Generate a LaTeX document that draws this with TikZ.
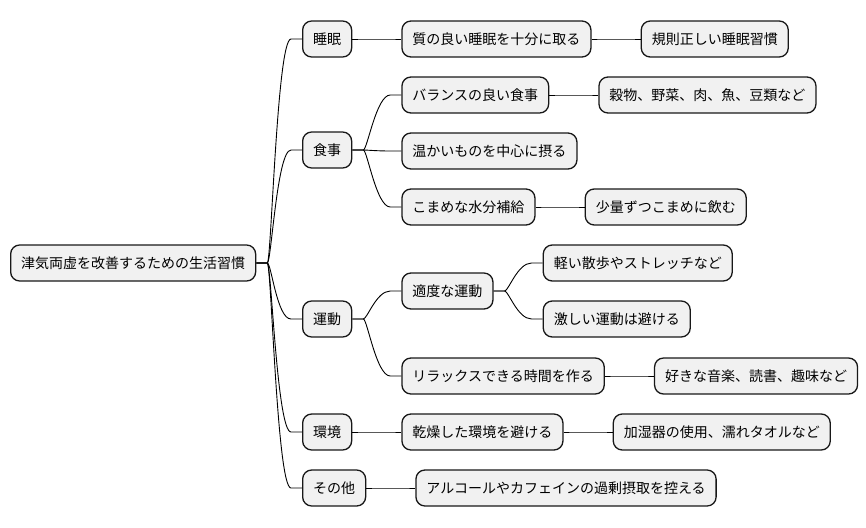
\documentclass[tikz,border=0pt]{standalone}
\usepackage{fontspec}
\usepackage{tikz}
\usetikzlibrary{calc}
\newfontfamily\jp{Noto Sans CJK JP}
\definecolor{boxfill}{HTML}{F1F1F1}
\definecolor{boxline}{HTML}{181818}

\begin{document}
\begin{tikzpicture}[x=1pt,y=-1pt,
  box/.style={draw=boxline, line width=1.3pt, fill=boxfill, rounded corners=9pt,
    minimum height=36, inner xsep=10.5pt, inner ysep=0pt, anchor=west,
    font=\jp\fontsize{14}{16}\selectfont},
  link/.style={draw=black, line width=0.9pt}]

\useasboundingbox (0,0) rectangle (866,527);

% root and first level
\node[box] (root) at (10,263) {津気両虚を改善するための生活習慣};
\node[box] (sleep) at (302,39)  {睡眠};
\node[box] (meal)  at (302,150) {食事};
\node[box] (move)  at (302,319) {運動};
\node[box] (env)   at (302,432) {環境};
\node[box] (other) at (302,488) {その他};

% second level
\node[box] (sleepwell) at ([xshift=49]sleep.east |- 0,39)  {質の良い睡眠を十分に取る};
\node[box] (balance)   at ([xshift=49]meal.east |- 0,95)   {バランスの良い食事};
\node[box] (warm)      at ([xshift=49]meal.east |- 0,151)  {温かいものを中心に摂る};
\node[box] (water)     at ([xshift=49]meal.east |- 0,207)  {こまめな水分補給};
\node[box] (modest)    at ([xshift=49]move.east |- 0,291)  {適度な運動};
\node[box] (relax)     at ([xshift=49]move.east |- 0,376)  {リラックスできる時間を作る};
\node[box] (dry)       at ([xshift=49]env.east |- 0,432)   {乾燥した環境を避ける};
\node[box] (alcohol)   at ([xshift=49]other.east |- 0,488) {アルコールやカフェインの過剰摂取を控える};

% third level
\node[box] (regular) at ([xshift=49]sleepwell.east |- 0,39) {規則正しい睡眠習慣};
\node[box] (grain)   at ([xshift=49]balance.east |- 0,95)   {穀物、野菜、肉、魚、豆類など};
\node[box] (sip)     at ([xshift=49]water.east |- 0,207)    {少量ずつこまめに飲む};
\node[box] (walk)    at ([xshift=49]modest.east |- 0,263)   {軽い散歩やストレッチなど};
\node[box] (hard)    at ([xshift=49]modest.east |- 0,319)   {激しい運動は避ける};
\node[box] (hobby)   at ([xshift=49]relax.east |- 0,376)    {好きな音楽、読書、趣味など};
\node[box] (humid)   at ([xshift=49]dry.east |- 0,432)      {加湿器の使用、濡れタオルなど};

% branches
\foreach \a/\b in {root/sleep, root/meal, root/move, root/env, root/other,
    sleep/sleepwell, meal/balance, meal/warm, meal/water,
    move/modest, move/relax, env/dry, other/alcohol,
    sleepwell/regular, balance/grain, water/sip,
    modest/walk, modest/hard, relax/hobby, dry/humid}
  \draw[link] (\a.east) -- ++(11,0) .. controls +(4,0) and +(-14,0) .. ([xshift=-11]\b.west) -- (\b.west);

\end{tikzpicture}
\end{document}
